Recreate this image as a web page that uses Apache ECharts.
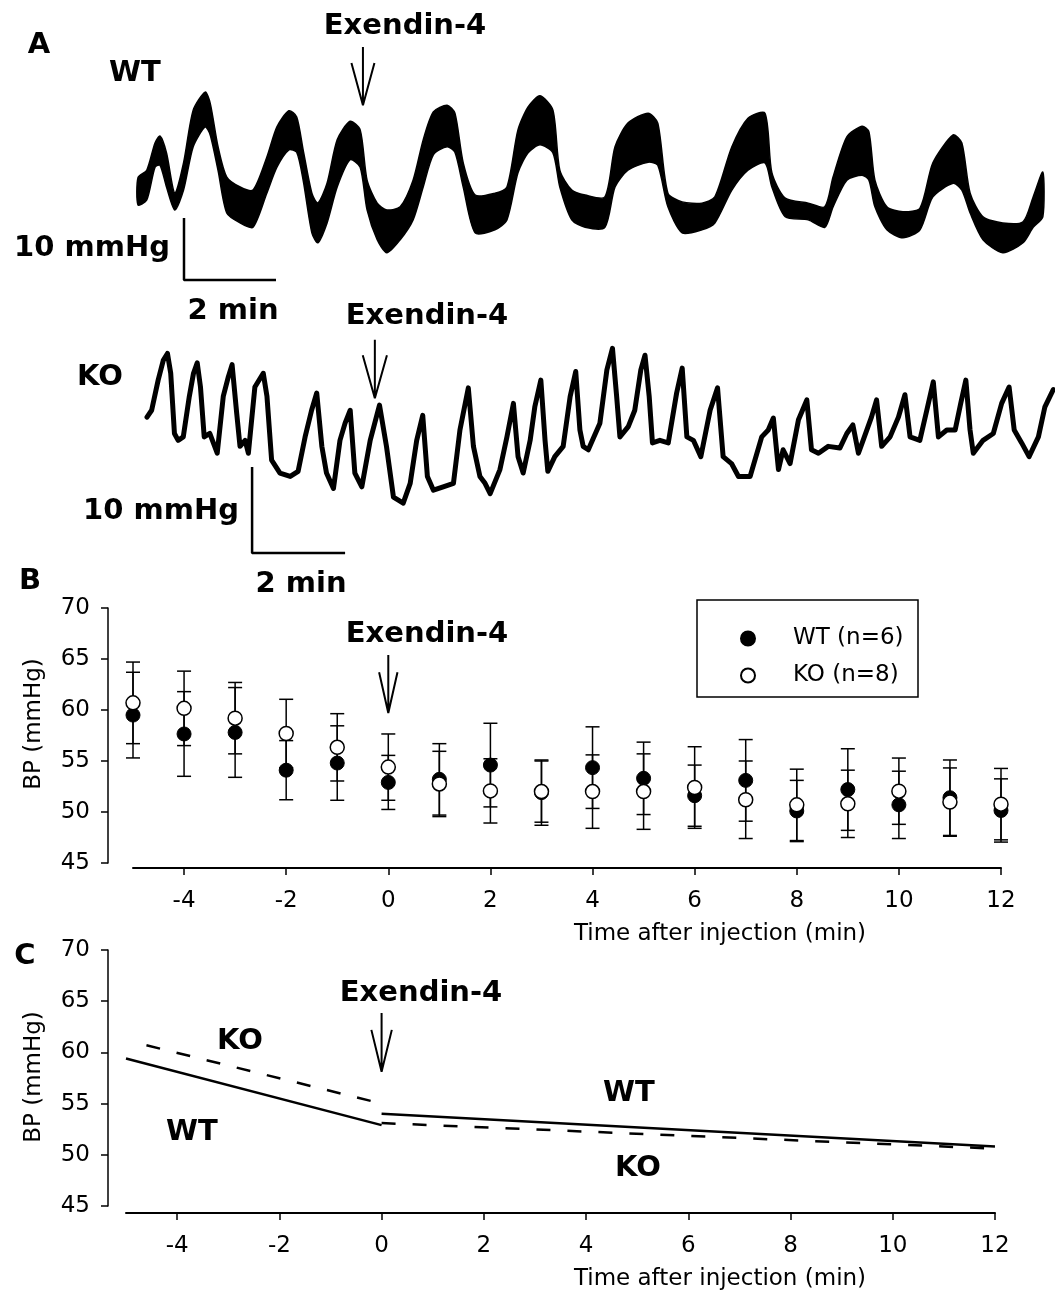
<!DOCTYPE html>
<html>
<head>
<meta charset="utf-8">
<script src="https://cdn.jsdelivr.net/npm/echarts@6.0.0/dist/echarts.min.js"></script>
<style>html,body{margin:0;padding:0;background:#fff}#c{width:1055px;height:1292px}</style>
</head>
<body>
<div id="c"></div>
<script>
// ---------- Panel A: WT trace (time in min, pressure in mmHg relative) ----------
var wtT = [0.00,0.19,0.37,0.48,0.62,0.80,0.99,1.20,1.46,1.57,1.74,1.93,2.22,2.50,2.80,3.02,3.28,3.45,3.59,3.78,3.91,4.11,4.33,4.61,4.83,4.98,5.20,5.41,5.70,5.98,6.20,6.42,6.72,6.89,7.07,7.33,7.76,8.02,8.26,8.48,8.74,9.02,9.17,9.43,9.72,10.15,10.37,10.65,11.09,11.30,11.52,11.83,12.26,12.54,12.91,13.26,13.63,13.78,14.07,14.57,14.93,15.11,15.41,15.74,15.89,16.02,16.28,16.63,17.00,17.28,17.72,17.91,18.09,18.37,18.80,19.24,19.46,19.67];
var wtHi = [16.5,17.7,22.1,23.2,20.5,14.0,18.9,27.4,30.3,28.5,21.5,16.6,15.0,14.5,19.8,24.7,27.3,26.3,21.0,14.0,12.4,15.6,22.6,25.6,24.2,16.1,12.4,11.3,11.8,16.1,22.6,27.1,28.2,26.9,18.9,13.7,14.0,15.0,24.2,27.9,29.7,27.4,17.7,14.5,13.7,13.4,21.5,25.3,26.9,25.3,14.0,12.6,12.4,13.4,21.5,26.1,26.9,17.3,13.2,12.4,11.8,16.6,23.1,24.8,23.9,16.1,11.8,11.0,11.6,18.9,23.4,22.1,14.0,10.2,9.2,9.4,13.4,17.4];
var wtLo = [12.1,12.9,18.2,18.5,15.0,11.3,14.5,21.5,24.7,23.4,17.7,10.8,9.2,8.5,14.0,18.2,21.0,20.6,16.1,7.6,6.0,9.2,15.0,19.4,18.2,11.3,6.5,4.4,6.5,9.7,15.0,20.2,21.5,20.6,15.0,7.6,8.1,9.7,17.3,20.5,21.8,20.5,15.0,9.7,8.5,8.5,15.0,17.7,19.0,18.5,11.8,7.6,8.1,9.2,14.5,17.7,18.9,15.0,10.2,9.7,8.5,11.8,16.1,16.9,16.1,11.8,8.1,6.8,8.1,13.4,15.6,14.5,10.8,6.5,4.4,6.0,8.5,10.2];

// ---------- Panel A: KO trace ----------
var koT = [0.00,0.10,0.24,0.35,0.44,0.51,0.59,0.67,0.78,0.91,1.00,1.08,1.15,1.23,1.35,1.51,1.64,1.75,1.83,1.93,2.00,2.11,2.18,2.32,2.50,2.58,2.68,2.86,3.08,3.25,3.40,3.54,3.65,3.76,3.86,4.01,4.15,4.26,4.37,4.47,4.62,4.80,5.00,5.15,5.30,5.51,5.66,5.80,5.93,6.03,6.16,6.37,6.59,6.73,6.91,7.02,7.16,7.27,7.38,7.59,7.74,7.88,7.98,8.09,8.24,8.34,8.47,8.56,8.62,8.77,8.95,9.10,9.22,9.31,9.38,9.49,9.74,9.89,10.01,10.10,10.17,10.35,10.49,10.62,10.71,10.80,10.87,11.03,11.21,11.39,11.51,11.61,11.75,11.91,12.11,12.27,12.39,12.57,12.72,12.97,13.22,13.36,13.47,13.58,13.68,13.83,14.01,14.19,14.29,14.44,14.65,14.90,15.05,15.18,15.30,15.40,15.58,15.69,15.80,15.98,16.16,16.30,16.41,16.62,16.77,16.91,17.02,17.20,17.38,17.50,17.61,17.70,17.77,17.98,18.20,18.38,18.54,18.65,18.81,18.97,19.17,19.31,19.49];
var koV = [15.8,16.6,20.1,22.4,23.2,20.9,13.9,13.1,13.5,18.2,20.9,22.1,19.3,13.5,13.9,11.6,18.2,20.5,21.9,16.2,12.4,13.1,11.6,19.3,20.9,18.2,10.8,9.3,8.9,9.5,13.5,16.6,18.6,12.4,9.3,7.5,13.1,15.1,16.6,9.3,7.7,13.1,17.2,12.4,6.5,5.8,8.1,13.1,16.0,8.9,7.3,7.7,8.1,14.3,19.2,12.4,8.9,8.1,6.9,9.7,13.5,17.4,11.2,9.3,13.1,17.0,20.1,13.1,9.5,11.2,12.4,18.2,21.1,14.3,12.4,12.0,15.1,21.3,23.8,18.2,13.5,14.7,16.6,21.3,23.0,18.2,12.8,13.1,12.8,18.6,21.5,13.5,13.1,11.2,16.6,19.2,11.2,10.4,8.9,8.9,13.5,14.3,15.7,9.7,12.0,10.4,15.5,17.8,12.0,11.6,12.4,12.2,13.9,14.9,11.6,13.1,15.8,17.8,12.4,13.5,15.8,18.4,13.5,13.1,16.6,19.9,13.5,14.3,14.3,17.4,20.1,14.3,11.6,13.1,13.9,17.4,19.3,14.3,12.8,11.2,13.5,17.0,19.0];

// scale bars (10 mmHg, 2 min)
var wtScale = [[1.0,10],[1.0,0],[3.0,0]];
var koScale = [[2.26,10],[2.26,0],[4.26,0]];

// ---------- Panel B ----------
var bpX   = [-5,-4,-3,-2,-1,0,1,2,3,4,5,6,7,8,9,10,11,12];
var wtMean= [59.5,57.65,57.8,54.1,54.8,52.9,53.2,54.6,51.9,54.35,53.3,51.6,53.1,50.1,52.2,50.7,51.4,50.15];
var wtErr = [4.2,4.15,4.4,2.9,3.65,2.65,3.5,4.1,3.2,4.0,3.55,3.0,4.0,3.0,4.0,3.3,3.7,3.1];
var koMean= [60.7,60.16,59.2,57.7,56.34,54.4,52.75,52.07,52.0,52.0,52.0,52.4,51.2,50.7,50.8,52.04,50.97,50.77];
var koErr = [4.0,3.65,3.5,3.35,3.3,3.25,3.2,3.15,3.0,3.6,3.7,4.0,3.8,3.5,3.3,3.25,3.35,3.5];
var xTicks = [-4,-2,0,2,4,6,8,10,12];

// ---------- Panel C (regression lines) ----------
var wtPre  = [[-5,59.4],[0,52.9]];
var wtPost = [[0,54.0],[12,50.8]];
var koPre  = [[-4.6,60.7],[0,55.0]];
var koPost = [[0,53.1],[12,50.6]];

var FONT = 'DejaVu Sans';
var chart = echarts.init(document.getElementById('c'), null, {renderer:'canvas'});

function arrowData(x, top, tip, wing, dx){
  return [[x,top],[x,tip],null,[x-dx,wing],[x,tip],[x+dx,wing]];
}
function arrowSeries(xi, yi, d){
  return {type:'line', xAxisIndex:xi, yAxisIndex:yi, data:d, showSymbol:false, connectNulls:false,
    lineStyle:{color:'#000', width:2}, silent:true, z:5};
}
function errSeries(xi, yi, mean, err){
  return {type:'custom', xAxisIndex:xi, yAxisIndex:yi, z:1, silent:true,
    data: mean.map(function(m,i){return [bpX[i], m-err[i], m+err[i]];}),
    encode:{x:0, y:[1,2]},
    renderItem:function(params, api){
      var x=api.value(0), lo=api.value(1), hi=api.value(2);
      var t=api.coord([x,hi]), b=api.coord([x,lo]), w=7;
      var st={stroke:'#000', lineWidth:1.5};
      return {type:'group', children:[
        {type:'line', shape:{x1:t[0],y1:t[1],x2:b[0],y2:b[1]}, style:st},
        {type:'line', shape:{x1:t[0]-w,y1:t[1],x2:t[0]+w,y2:t[1]}, style:st},
        {type:'line', shape:{x1:b[0]-w,y1:b[1],x2:b[0]+w,y2:b[1]}, style:st}
      ]};
    }};
}
function txt(s, x, y, bold, size, rot){
  var e = {type:'text', x:x, y:y, style:{text:s, fill:'#000', font:(bold?'bold ':'')+size+'px "'+FONT+'"', align:'center', verticalAlign:'middle'}, silent:true, z:10};
  if (rot) e.rotation = rot;
  return e;
}
var hidden = {show:false};
function hiddenX(gi, min, max){return {type:'value', gridIndex:gi, min:min, max:max, show:false, splitLine:hidden};}
function dataXAxis(gi, off){
  return {type:'value', gridIndex:gi, min:-5, max:12, offset:off,
    axisLine:{show:true, onZero:false, lineStyle:{color:'#000', width:2}},
    axisTick:{show:true, length:7, lineStyle:{color:'#000', width:1.5}, customValues:xTicks},
    axisLabel:{color:'#000', fontFamily:FONT, fontSize:23, margin:22, customValues:xTicks},
    splitLine:hidden};
}
function dataYAxis(gi, off){
  return {type:'value', gridIndex:gi, min:45, max:70, interval:5, offset:off,
    axisLine:{show:true, onZero:false, lineStyle:{color:'#000', width:1.5}},
    axisTick:{show:true, length:7, lineStyle:{color:'#000', width:1.5}},
    axisLabel:{color:'#000', fontFamily:FONT, fontSize:23, margin:18},
    splitLine:hidden};
}

var option = {
  animation:false,
  backgroundColor:'#fff',
  grid:[
    {left:138, top:0, width:907, height:290},
    {left:147, top:330, width:908, height:230},
    {left:133, top:608, width:868, height:255},
    {left:126, top:950, width:869, height:256}
  ],
  xAxis:[
    hiddenX(0, 0, 19.7174),
    hiddenX(1, 0, 19.527),
    dataXAxis(2, 5),
    dataXAxis(3, 7)
  ],
  yAxis:[
    {type:'value', gridIndex:0, min:-1.613, max:45.161, show:false, splitLine:hidden},
    {type:'value', gridIndex:1, min:-0.814, max:25.930, show:false, splitLine:hidden},
    dataYAxis(2, 25),
    dataYAxis(3, 18)
  ],
  legend:{
    left:735, top:622, orient:'vertical', itemWidth:14, itemHeight:14, itemGap:14,
    data:['WT (n=6)','KO (n=8)'],
    textStyle:{fontFamily:FONT, fontSize:23, color:'#000', padding:[0,0,0,33], lineHeight:20},
    selectedMode:false
  },
  graphic:[
    {type:'rect', shape:{x:697, y:600, width:221, height:97}, style:{fill:'none', stroke:'#000', lineWidth:1.5}, silent:true},
    txt('A', 39, 45, true, 29),
    txt('WT', 135, 73, true, 29),
    txt('Exendin-4', 405, 26, true, 29),
    txt('10 mmHg', 92, 248, true, 29),
    txt('2 min', 233, 311, true, 29),
    txt('KO', 100, 377, true, 29),
    txt('Exendin-4', 427, 316, true, 29),
    txt('10 mmHg', 161, 511, true, 29),
    txt('2 min', 301, 584, true, 29),
    txt('B', 30, 581, true, 29),
    txt('Exendin-4', 427, 634, true, 29),
    txt('BP (mmHg)', 34, 724, false, 23, Math.PI/2),
    txt('Time after injection (min)', 720, 934, false, 23),
    txt('C', 25, 956, true, 29),
    txt('Exendin-4', 421, 993, true, 29),
    txt('KO', 240, 1041, true, 29),
    txt('WT', 192, 1132, true, 29),
    txt('WT', 629, 1093, true, 29),
    txt('KO', 638, 1168, true, 29),
    txt('BP (mmHg)', 34, 1077, false, 23, Math.PI/2),
    txt('Time after injection (min)', 720, 1279, false, 23)
  ],
  series:[
    // WT trace band
    {type:'custom', xAxisIndex:0, yAxisIndex:0, silent:true, data:[[wtT[0], wtHi[0]]],
     renderItem:function(params, api){
       var pts=[], i;
       for(i=0;i<wtT.length;i++) pts.push(api.coord([wtT[i], wtHi[i]]));
       for(i=wtT.length-1;i>=0;i--) pts.push(api.coord([wtT[i], wtLo[i]]));
       return {type:'polygon', shape:{points:pts, smooth:0.25}, style:{fill:'#000', stroke:'#000', lineWidth:1.5}};
     }},
    {type:'line', xAxisIndex:0, yAxisIndex:0, data:wtScale, showSymbol:false, lineStyle:{color:'#000', width:2.5}, silent:true},
    arrowSeries(0, 0, arrowData(4.89, 37.6, 28.2, 35.0, 0.25)),
    // KO trace
    {type:'line', xAxisIndex:1, yAxisIndex:1, data:koT.map(function(t,i){return [t, koV[i]];}), showSymbol:false,
     lineStyle:{color:'#000', width:5, join:'round', cap:'round'}, silent:true},
    {type:'line', xAxisIndex:1, yAxisIndex:1, data:koScale, showSymbol:false, lineStyle:{color:'#000', width:2.5}, silent:true},
    arrowSeries(1, 1, arrowData(4.90, 24.8, 18.0, 23.0, 0.26)),
    // Panel B
    errSeries(2, 2, wtMean, wtErr),
    errSeries(2, 2, koMean, koErr),
    {name:'WT (n=6)', type:'scatter', xAxisIndex:2, yAxisIndex:2, z:2, symbol:'circle', symbolSize:14,
     data:bpX.map(function(x,i){return [x, wtMean[i]];}), itemStyle:{color:'#000', borderColor:'#000', borderWidth:1, opacity:1}},
    {name:'KO (n=8)', type:'scatter', xAxisIndex:2, yAxisIndex:2, z:3, symbol:'circle', symbolSize:14,
     data:bpX.map(function(x,i){return [x, koMean[i]];}), itemStyle:{color:'#fff', borderColor:'#000', borderWidth:1.5, opacity:1}},
    arrowSeries(2, 2, arrowData(0, 65.4, 59.7, 63.7, 0.18)),
    // Panel C
    {type:'line', xAxisIndex:3, yAxisIndex:3, data:wtPre, showSymbol:false, lineStyle:{color:'#000', width:2.5}, silent:true},
    {type:'line', xAxisIndex:3, yAxisIndex:3, data:wtPost, showSymbol:false, lineStyle:{color:'#000', width:2.5}, silent:true},
    {type:'line', xAxisIndex:3, yAxisIndex:3, data:koPre, showSymbol:false, lineStyle:{color:'#000', width:2.5, type:[14,17]}, silent:true},
    {type:'line', xAxisIndex:3, yAxisIndex:3, data:koPost, showSymbol:false, lineStyle:{color:'#000', width:2.5, type:[14,17]}, silent:true},
    arrowSeries(3, 3, arrowData(0, 63.85, 58.1, 62.2, 0.2))
  ]
};
chart.setOption(option);
</script>
</body>
</html>
